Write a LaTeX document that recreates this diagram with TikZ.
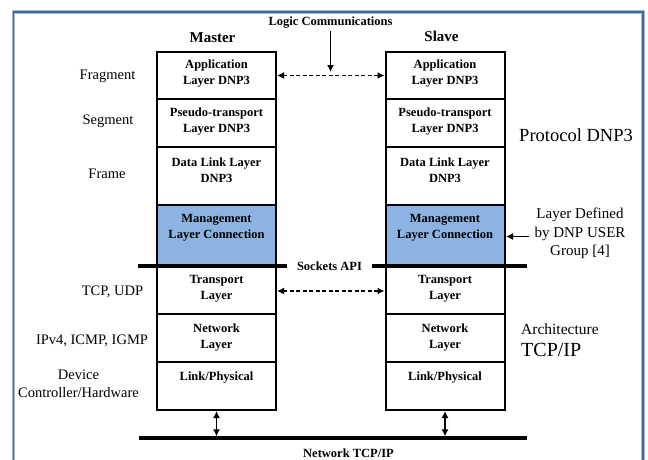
\documentclass[tikz,border=0pt]{standalone}
\usepackage{fontspec}
\setmainfont{Liberation Serif}
\usetikzlibrary{arrows.meta}
\definecolor{framecol}{RGB}{72,104,150}
\definecolor{framelite}{RGB}{165,185,212}
\definecolor{mgmtfill}{RGB}{141,179,226}
\tikzset{
  layerbox/.style={draw=black, line width=2pt, minimum width=119pt, inner sep=0pt, outer sep=0pt},
  boxtext/.style={font=\fontsize{12.5}{16}\selectfont\bfseries, align=center, inner sep=0pt},
  headtext/.style={font=\fontsize{15}{18}\selectfont\bfseries, inner sep=0pt},
  sidetext/.style={font=\fontsize{14.5}{18}\selectfont, align=center, inner sep=0pt},
  dasharrow/.style={line width=1.9pt, dash pattern=on 4pt off 2.5pt, {Latex[length=7pt,width=7pt]}-{Latex[length=7pt,width=7pt]}},
  solidarrow/.style={line width=1.9pt, -{Latex[length=7pt,width=7pt]}},
  bothways/.style={line width=1.9pt, {Latex[length=7pt,width=7pt]}-{Latex[length=7pt,width=7pt]}},
  busline/.style={line width=3.2pt},
}
\begin{document}
\begin{tikzpicture}[x=1pt, y=-1pt]
\useasboundingbox (0,0) rectangle (648,459);

% outer frame (open at the bottom)
\draw[framelite, line width=3.5pt] (13.5,470) |- (643,12) -- (643,470);
\draw[framecol, line width=1.6pt] (13.5,470) |- (643,12) -- (643,470);

% column headings
\node[headtext] (master) at (212.5,37.5) {Master};
\node[headtext] (slave) at (441.5,36.5) {Slave};
\node[font=\fontsize{12.5}{15}\selectfont\bfseries, inner sep=0pt] (logic) at (330.5,23) {Logic Communications};

% Master stack
\node[layerbox, minimum height=47pt] (mApp) at (216.5,75.5) {};
\node[layerbox, minimum height=48pt] (mPseudo) at (216.5,123) {};
\node[layerbox, minimum height=58pt] (mData) at (216.5,176) {};
\node[layerbox, minimum height=61pt, fill=mgmtfill] (mMgmt) at (216.5,235.5) {};
\node[layerbox, minimum height=48pt] (mTrans) at (216.5,290) {};
\node[layerbox, minimum height=48pt] (mNet) at (216.5,338) {};
\node[layerbox, minimum height=48pt] (mLink) at (216.5,386) {};

% Slave stack
\node[layerbox, minimum height=47pt] (sApp) at (445,75.5) {};
\node[layerbox, minimum height=48pt] (sPseudo) at (445,123) {};
\node[layerbox, minimum height=58pt] (sData) at (445,176) {};
\node[layerbox, minimum height=61pt, fill=mgmtfill] (sMgmt) at (445,235.5) {};
\node[layerbox, minimum height=48pt] (sTrans) at (445,290) {};
\node[layerbox, minimum height=48pt] (sNet) at (445,338) {};
\node[layerbox, minimum height=48pt] (sLink) at (445,386) {};

% layer captions
\foreach \side in {m,s}{
  \node[boxtext] (\side AppT) at ([yshift=-22pt]\side App.north) {Application\\Layer DNP3};
  \node[boxtext] (\side PseudoT) at ([yshift=-23pt]\side Pseudo.north) {Pseudo-transport\\Layer DNP3};
  \node[boxtext] (\side DataT) at ([yshift=-23pt]\side Data.north) {Data Link Layer\\DNP3};
  \node[boxtext] (\side MgmtT) at ([yshift=-23pt]\side Mgmt.north) {Management\\Layer Connection};
  \node[boxtext] (\side TransT) at ([yshift=-23pt]\side Trans.north) {Transport\\Layer};
  \node[boxtext] (\side NetT) at ([yshift=-23.5pt]\side Net.north) {Network\\Layer};
  \node[boxtext] (\side LinkT) at ([yshift=-15.5pt]\side Link.north) {Link/Physical};
}

% peer-to-peer exchanges
\draw[dasharrow] ([xshift=1pt]mApp.east) -- ([xshift=-1pt]sApp.west);
\draw[dasharrow] ([xshift=1pt,yshift=-1pt]mTrans.east) -- ([xshift=-1pt,yshift=-1pt]sTrans.west);
\coordinate (lcTip) at (330.5,72);
\draw[solidarrow] ([yshift=-2pt]logic.south) -- (lcTip);

% sockets API boundary
\coordinate (apiL) at (138,266);
\coordinate (apiR) at (527,266);
\node[font=\fontsize{12.5}{15}\selectfont\bfseries, inner ysep=0pt, inner xsep=10pt] (api) at (329.5,266) {Sockets API};
\draw[busline] (apiL) -- (api.west);
\draw[busline] (api.east) -- (apiR);

% network bus
\coordinate (busL) at (139,438);
\coordinate (busR) at (527,438);
\draw[busline] (busL) -- (busR);
\node[font=\fontsize{12.5}{15}\selectfont\bfseries, inner sep=0pt] (net) at (348.5,453) {Network TCP/IP};
\draw[bothways] ([yshift=-1pt]mLink.south) -- ([yshift=1.6pt]mLink.south |- busL);
\draw[bothways] ([yshift=-1pt]sLink.south) -- ([yshift=1.6pt]sLink.south |- busL);

% data units on the left
\node[sidetext] (frag) at (107.5,76) {Fragment};
\node[sidetext] (seg) at (108,121) {Segment};
\node[sidetext] (frame) at (107,174) {Frame};
\node[sidetext] (tcpudp) at (112.5,292) {TCP, UDP};
\node[sidetext] (ipv4) at (92,341) {IPv4, ICMP, IGMP};
\node[sidetext] (dev) at (78.5,384) {Device\\Controller/Hardware};

% annotations on the right
\node[font=\fontsize{18.5}{22}\selectfont, inner sep=0pt] (proto) at (576,135) {Protocol DNP3};
\node[font=\fontsize{15}{18.3}\selectfont, align=center, inner sep=0pt] (user) at (580,233.5) {Layer Defined\\by DNP USER\\Group [4]};
\coordinate (userTail) at (528.5,236.5);
\draw[solidarrow] (userTail) -- ([xshift=1.5pt,yshift=-1pt]sMgmt.east);
\node[font=\fontsize{15.5}{18}\selectfont, anchor=west, inner sep=0pt] (arch) at (521,329) {Architecture};
\node[font=\fontsize{20}{22}\selectfont, anchor=west, inner sep=0pt] (tcpip) at (521,350) {TCP/IP};
\end{tikzpicture}
\end{document}
